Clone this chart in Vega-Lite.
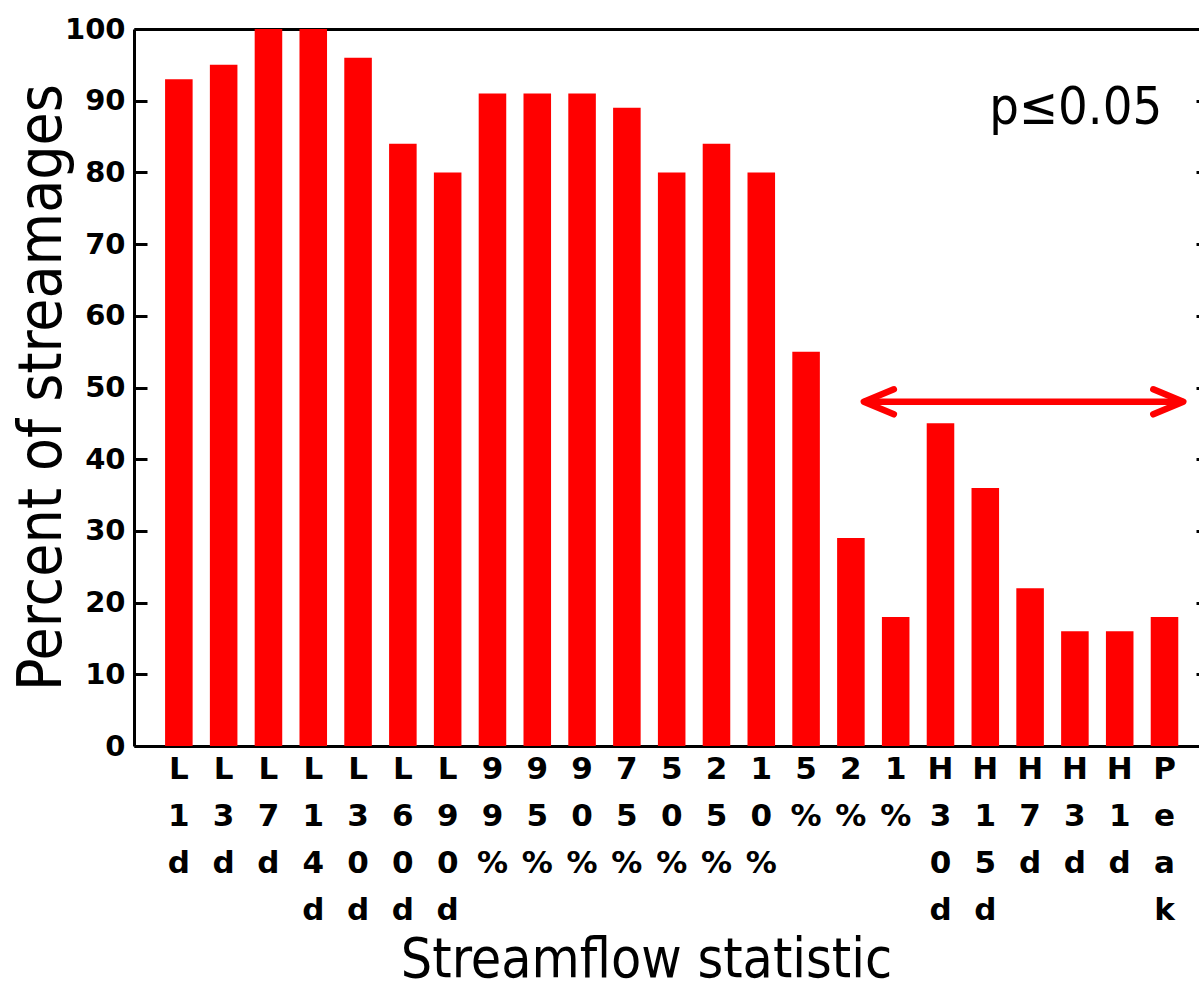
{
  "$schema": "https://vega.github.io/schema/vega-lite/v6.json",
  "width": 1065,
  "height": 717,
  "autosize": {"type": "none"},
  "padding": {"left": 134, "top": 29, "right": 0, "bottom": 243},
  "background": "white",
  "config": {
    "view": {"stroke": null},
    "axis": {"grid": false, "domainColor": "black", "domainWidth": 3, "tickColor": "black", "tickWidth": 3, "labelColor": "black", "titleColor": "black"}
  },
  "datasets": {
    "bars": [
      {"stat": "L1d", "pct": 93}, {"stat": "L3d", "pct": 95}, {"stat": "L7d", "pct": 100}, {"stat": "L14d", "pct": 100},
      {"stat": "L30d", "pct": 96}, {"stat": "L60d", "pct": 84}, {"stat": "L90d", "pct": 80},
      {"stat": "99%", "pct": 91}, {"stat": "95%", "pct": 91}, {"stat": "90%", "pct": 91}, {"stat": "75%", "pct": 89},
      {"stat": "50%", "pct": 80}, {"stat": "25%", "pct": 84}, {"stat": "10%", "pct": 80}, {"stat": "5%", "pct": 55},
      {"stat": "2%", "pct": 29}, {"stat": "1%", "pct": 18},
      {"stat": "H30d", "pct": 45}, {"stat": "H15d", "pct": 36}, {"stat": "H7d", "pct": 22}, {"stat": "H3d", "pct": 16},
      {"stat": "H1d", "pct": 16}, {"stat": "Peak", "pct": 18}
    ],
    "arrow": [{"x": 16.29, "x2": 23.42, "y": 48}],
    "heads": [{"x": 16.29, "y": 48, "side": "L"}, {"x": 23.42, "y": 48, "side": "R"}],
    "note": [{"x": 22.95, "y": 86.8, "label": "p≤0.05"}]
  },
  "layer": [
    {
      "data": {"name": "bars"},
      "mark": {"type": "bar", "color": "#ff0000"},
      "encoding": {
        "x": {
          "field": "stat", "type": "nominal", "sort": null,
          "scale": {"type": "band", "paddingInner": 0.385, "paddingOuter": 0.578, "align": 0.6},
          "axis": {
            "orient": "bottom", "ticks": false, "labelPadding": 8, "labelAngle": 0,
            "labelFont": "DejaVu Sans", "labelFontWeight": "bold", "labelFontSize": 31, "labelLineHeight": 47,
            "labelExpr": "split(datum.label, '')", "labelBaseline": "top", "labelOverlap": false, "labelBound": false,
            "title": "Streamflow statistic", "titleFont": "Liberation Sans Narrow, DejaVu Sans Condensed, Roboto Condensed, sans-serif", "titleFontSize": 55, "titleFontWeight": "normal",
            "titleX": 512, "titleY": 230, "titleBaseline": "alphabetic", "titleAlign": "center"
          }
        },
        "y": {
          "field": "pct", "type": "quantitative",
          "scale": {"domain": [0, 100], "nice": false},
          "axis": {
            "orient": "left", "values": [0, 10, 20, 30, 40, 50, 60, 70, 80, 90, 100], "tickSize": -13, "labelPadding": 22,
            "labelFont": "DejaVu Sans", "labelFontWeight": "bold", "labelFontSize": 29, "labelBound": false,
            "title": "Percent of streamages", "titleFont": "Liberation Sans Narrow, DejaVu Sans Condensed, Roboto Condensed, sans-serif", "titleFontSize": 60, "titleFontWeight": "normal",
            "titleX": -74, "titleY": 358, "titleAngle": 270, "titleBaseline": "alphabetic", "titleAlign": "center"
          }
        }
      }
    },
    {
      "layer": [
        {
          "data": {"name": "arrow"},
          "mark": {"type": "rule", "color": "#ff0000", "strokeWidth": 6.5},
          "encoding": {
            "x": {"field": "x", "type": "quantitative", "scale": {"domain": [0, 23.771], "nice": false, "zero": false},
                  "axis": {"orient": "top", "ticks": false, "labels": false, "domain": true, "title": null}},
            "x2": {"field": "x2"},
            "y": {"field": "y", "type": "quantitative", "scale": {"domain": [0, 100], "nice": false},
                  "axis": {"orient": "right", "values": [0, 10, 20, 30, 40, 50, 60, 70, 80, 90, 100], "tickSize": -3, "labels": false, "domain": false, "title": null}}
          }
        },
        {
          "data": {"name": "heads"},
          "mark": {"type": "point", "filled": false, "stroke": "#ff0000", "strokeWidth": 6.5, "strokeCap": "round", "strokeJoin": "round", "size": 625, "opacity": 1},
          "encoding": {
            "x": {"field": "x", "type": "quantitative"},
            "y": {"field": "y", "type": "quantitative"},
            "shape": {"field": "side", "type": "nominal", "scale": {"domain": ["L", "R"], "range": ["M 2.4 -1 L 0 0 L 2.4 1", "M -2.4 -1 L 0 0 L -2.4 1"]}, "legend": null}
          }
        },
        {
          "data": {"name": "note"},
          "mark": {"type": "text", "align": "right", "baseline": "alphabetic", "font": "Liberation Sans Narrow, DejaVu Sans Condensed, Roboto Condensed, sans-serif", "fontSize": 52, "color": "black"},
          "encoding": {
            "x": {"field": "x", "type": "quantitative"},
            "y": {"field": "y", "type": "quantitative"},
            "text": {"field": "label"}
          }
        }
      ]
    }
  ],
  "resolve": {"scale": {"x": "independent", "y": "independent"}}
}
